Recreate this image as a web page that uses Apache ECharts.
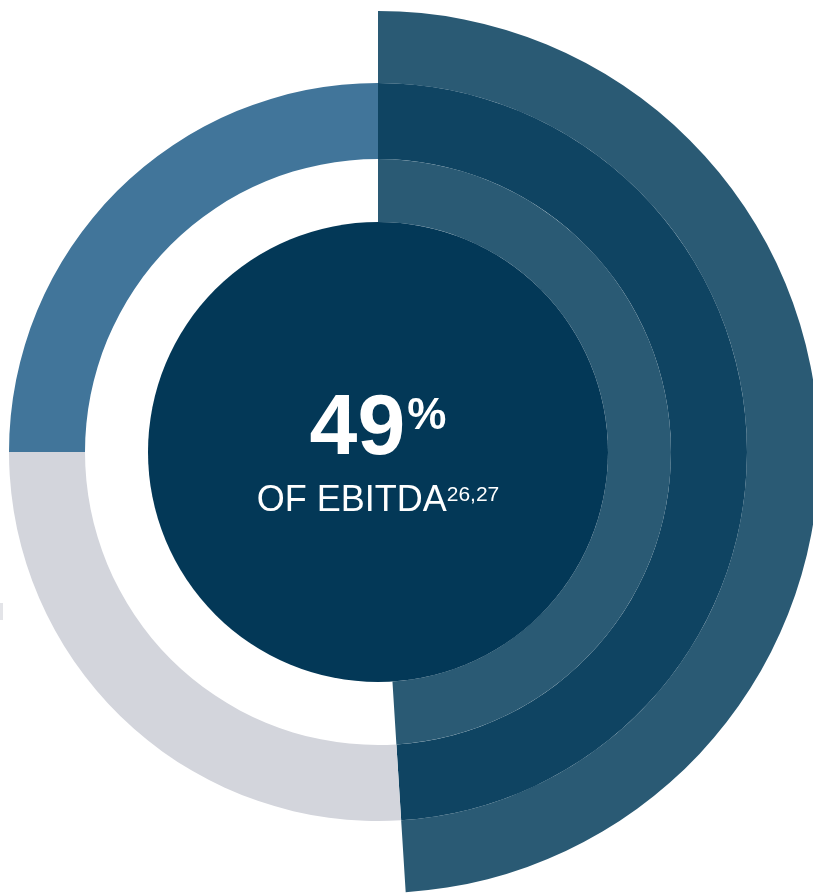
<!DOCTYPE html>
<html>
<head>
<meta charset="utf-8">
<script src="https://cdn.jsdelivr.net/npm/echarts@6/dist/echarts.min.js"></script>
<style>
html,body{margin:0;padding:0;background:#fff;}
#chart{width:813px;height:894px;}
</style>
</head>
<body>
<div id="chart"></div>
<script>
// Data
const shareLabel = '49';
const shareUnit = '%';
const captionText = 'OF EBITDA';
const captionNote = '26,27';
const innerRingNames = ['EBITDA share', 'Remainder'];
const innerRingValues = [49, 51];
const middleRingNames = ['EBITDA share', 'Segment B', 'Segment A'];
const middleRingValues = [49, 26, 25];
const outerRingNames = ['EBITDA share', 'Remainder'];
const outerRingValues = [49, 51];

const chart = echarts.init(document.getElementById('chart'));
const C = ['378px', '452px'];
const base = {
  type: 'pie', center: C, startAngle: 90, clockwise: true, silent: true,
  animation: false, label: {show: false}, labelLine: {show: false},
  emphasis: {disabled: true}, itemStyle: {borderWidth: 0}
};
function ring(names, values, colors, radius) {
  return Object.assign({}, base, {
    radius: radius,
    data: values.map((v, i) => ({name: names[i], value: v, itemStyle: {color: colors[i]}}))
  });
}
chart.setOption({
  backgroundColor: '#ffffff',
  graphic: [{type: 'rect', shape: {x: 0, y: 603, width: 3, height: 17}, style: {fill: '#e3e4e8'}}],
  series: [
    ring(outerRingNames, outerRingValues, ['#2a5a74', 'rgba(0,0,0,0)'], [369, 441]),
    ring(middleRingNames, middleRingValues, ['#0f4462', '#d3d5dc', '#41759a'], [293, 369]),
    ring(innerRingNames, innerRingValues, ['#2a5a74', 'rgba(0,0,0,0)'], [230, 293]),
    Object.assign({}, base, {
      radius: [0, 230],
      data: [{name: captionText, value: 1, itemStyle: {color: '#033857'}}],
      label: {
        show: true, position: 'center', offset: [0, 9],
        formatter: '{big|' + shareLabel + '}{pct|' + shareUnit + '}\n{cap|' + captionText + '}{sup|' + captionNote + '}',
        rich: {
          big: {fontFamily: 'Liberation Sans', fontWeight: 'bold', fontSize: 86, lineHeight: 80, color: '#fff'},
          pct: {fontFamily: 'Liberation Sans', fontWeight: 'bold', fontSize: 44, lineHeight: 44, color: '#fff', verticalAlign: 'top', padding: [5, 0, 0, 2]},
          cap: {fontFamily: 'Liberation Sans', fontSize: 36, lineHeight: 62, color: '#fff'},
          sup: {fontFamily: 'Liberation Sans', fontSize: 21, lineHeight: 26, color: '#fff', verticalAlign: 'top', padding: [15, 0, 0, 0]}
        }
      }
    })
  ]
});
</script>
</body>
</html>
